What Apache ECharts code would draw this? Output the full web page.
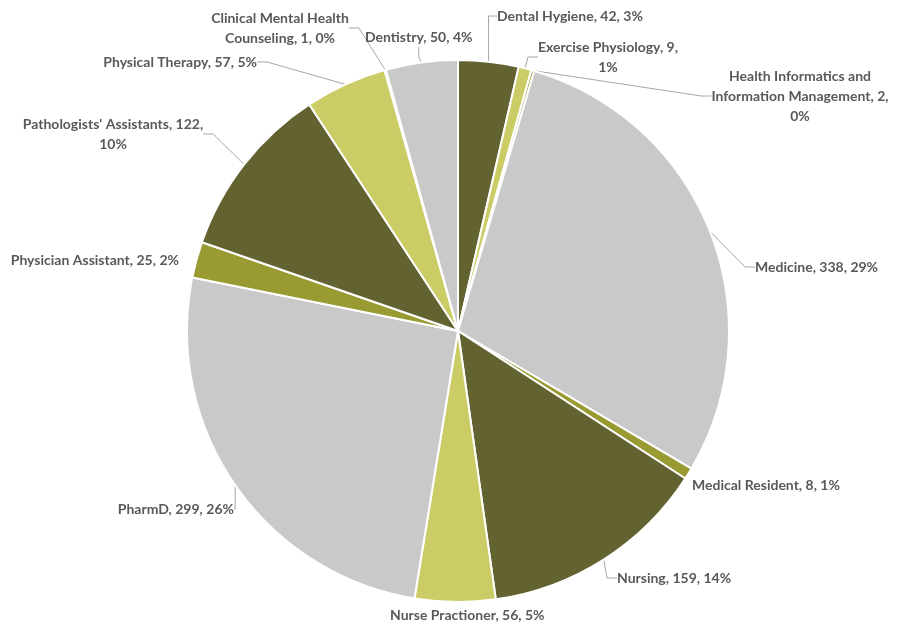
<!DOCTYPE html>
<html>
<head>
<meta charset="utf-8">
<script src="https://cdn.jsdelivr.net/npm/echarts@6/dist/echarts.min.js"></script>
<style>
html, body { margin: 0; padding: 0; background: #fff; }
#main { width: 900px; height: 627px; }
</style>
</head>
<body>
<div id="main"></div>
<script>
// programs, clockwise from 12 o'clock
var programs = ['Dental Hygiene', 'Exercise Physiology', 'Health Informatics and Information Management',
    'Medicine', 'Medical Resident', 'Nursing', 'Nurse Practioner', 'PharmD', 'Physician Assistant',
    "Pathologists' Assistants", 'Physical Therapy', 'Clinical Mental Health Counseling', 'Dentistry'];
var counts = [42, 9, 2, 338, 8, 159, 56, 299, 25, 122, 57, 1, 50];

var DARK = '#636331', LIGHT = '#cccc66', GRAY = '#c9c9c9', OLIVE = '#9a9a33';
var sliceColors = [DARK, LIGHT, OLIVE, GRAY, OLIVE, DARK, LIGHT, GRAY, OLIVE, DARK, LIGHT, OLIVE, GRAY];

// label placement: [x, y, align, words per line, showLine]
var labelPos = [
    [497, 16, 'left', null, true],
    [608, 57, 'center', [3], true],
    [800, 96, 'center', [3, 3], true],
    [755, 267, 'left', null, true],
    [692, 485, 'left', null, false],
    [617, 578, 'left', null, true],
    [390, 615, 'left', null, false],
    [234, 509, 'right', null, true],
    [179, 260, 'right', null, false],
    [113, 134, 'center', [3], true],
    [257, 62, 'right', null, true],
    [280, 28, 'center', [3], true],
    [365, 37, 'left', null, true]
];

function wrapLabel(text, counts) {
    if (!counts) return text;
    var words = text.split(' ');
    var lines = [];
    var k = 0;
    counts.forEach(function (n) {
        lines.push(words.slice(k, k + n).join(' '));
        k += n;
    });
    if (k < words.length) lines.push(words.slice(k).join(' '));
    return lines.join('\n');
}

var dom = document.getElementById('main');
var myChart = echarts.init(dom);

var pieData = programs.map(function (name, i) {
    return {
        name: name,
        value: counts[i],
        itemStyle: { color: sliceColors[i] },
        label: { align: labelPos[i][2] === 'center' ? 'center' : 'left' },
        labelLine: { show: labelPos[i][4] }
    };
});

option = {
    backgroundColor: '#fff',
    animation: false,
    series: [{
        type: 'pie',
        center: [458, 331],
        radius: 271,
        startAngle: 90,
        clockwise: true,
        percentPrecision: 0,
        avoidLabelOverlap: false,
        itemStyle: {
            borderColor: '#fff',
            borderWidth: 2
        },
        label: {
            show: true,
            position: 'outside',
            formatter: function (p) {
                return wrapLabel(p.name + ', ' + p.value + ', ' + p.percent + '%', labelPos[p.dataIndex][3]);
            },
            fontFamily: 'Lato',
            fontWeight: 'bold',
            fontSize: 14,
            lineHeight: 20,
            color: '#595959'
        },
        labelLine: {
            show: true,
            length: 10,
            length2: 10,
            lineStyle: { color: '#a6a6a6', width: 1 }
        },
        labelLayout: function (params) {
            var p = labelPos[params.dataIndex];
            return {
                x: p[0],
                y: p[1],
                align: p[2],
                verticalAlign: 'middle'
            };
        },
        data: pieData
    }]
};

if (option && typeof option === 'object') {
    myChart.setOption(option, true);
}
</script>
</body>
</html>
